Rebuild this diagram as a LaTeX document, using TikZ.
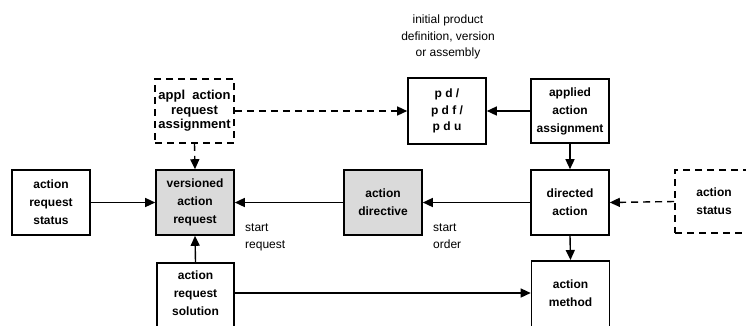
\documentclass[tikz,border=0pt]{standalone}
\usepackage{fontspec}
\setmainfont{Liberation Sans}
\usetikzlibrary{arrows.meta}
\definecolor{boxgray}{HTML}{DADADA}
\tikzset{
  box/.style={draw=black, line width=1.6pt, minimum width=78pt, minimum height=65pt,
    inner sep=0pt, align=center, font=\fontsize{12}{18}\selectfont\bfseries},
  graybox/.style={box, fill=boxgray},
  dbox/.style={box, dash pattern=on 7pt off 5pt},
  boxtext/.style={inner sep=0pt, align=center, font=\fontsize{12}{18}\selectfont\bfseries},
  conn/.style={line width=1.4pt, -{Triangle[length=10pt,width=9pt]}},
  dconn/.style={conn, dash pattern=on 7pt off 5pt},
  lab/.style={align=left, inner sep=0pt, font=\fontsize{12}{17}\selectfont},
}
\begin{document}
\begin{tikzpicture}[x=1pt,y=-1pt]
\clip (0,0) rectangle (746,325);
\fill[white] (0,0) rectangle (746,325);
% nodes
\node[box] (ars) at (51,202.5) {action\\request\\status};
\node[graybox] (var) at (195,202.5) {versioned\\action\\request};
\node[box, minimum width=77pt, minimum height=80pt, anchor=north] (sol) at (195.5,262) {};
\node[boxtext] (solt) at (195.5,293.5) {action\\request\\solution};
\node[dbox, minimum width=79pt, minimum height=64pt, font=\fontsize{13}{14.5}\selectfont\bfseries] (aras) at (194.5,111) {appl\ \ action\\request\\assignment};
\node[box, minimum height=66pt, font=\fontsize{12}{16.5}\selectfont\bfseries] (pd) at (447,111) {p d /\\p d f /\\p d u};
\node[box, minimum height=64pt] (aaa) at (570,111) {applied\\action\\assignment};
\node[graybox] (dir) at (383,202.5) {action\\directive};
\node[box] (da) at (570,202.5) {directed\\action};
\node[box, minimum height=80pt, anchor=north] (am) at (570.5,260) {};
\node[boxtext] (amt) at (570.5,293) {action\\method};
\node[dbox, minimum height=63pt] (st) at (714,201.5) {action\\status};
% labels
\node[lab, align=center, font=\fontsize{12}{16.7}\selectfont] (pdl) at (448,37) {initial product\\definition, version\\or assembly};
\node[lab, anchor=west] (sr) at (245,237.5) {start\\request};
\node[lab, anchor=west] (so) at (433,236.5) {start\\order};
% connectors
\draw[conn] (ars.east) -- (var.west);
\draw[conn] (dir.west) -- (var.east);
\draw[conn] (da.west) -- (dir.east);
\draw[conn] (sol.north) -- (var.south);
\draw[conn] (sol.east |- amt.center) -- (am.west |- amt.center);
\draw[conn] (aaa.south) -- (da.north);
\draw[conn] (da.south) -- (am.north);
\draw[conn] (aaa.west) -- (pd.east);
\draw[dconn] (aras.east) -- (pd.west);
\draw[dconn] (aras.south) -- (var.north);
\draw[dconn] (st.west) -- (da.east);
\end{tikzpicture}
\end{document}
